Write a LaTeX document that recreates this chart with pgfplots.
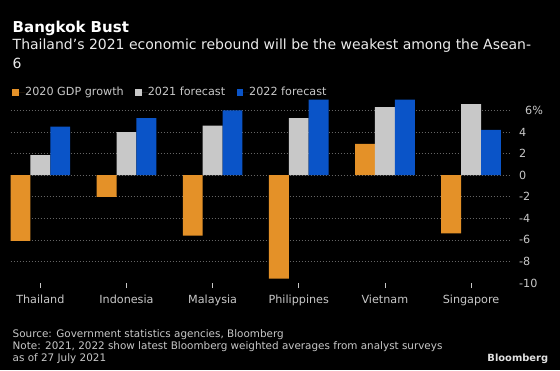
\documentclass[border=0pt]{standalone}
\usepackage{pgfplots}
\pgfplotsset{compat=1.18}
\usepackage{fontspec}
\setmainfont{DejaVu Sans}
\definecolor{bborange}{RGB}{228,145,40}
\definecolor{bbgray}{RGB}{200,200,200}
\definecolor{bbblue}{RGB}{10,84,200}
\definecolor{txtgray}{RGB}{200,200,200}
\definecolor{gridgray}{RGB}{100,100,100}
\begin{document}
\begin{tikzpicture}[x=1pt,y=1pt]
\fill[black] (0,0) rectangle (560,370);
\useasboundingbox (0,0) rectangle (560,370);
\node[anchor=base west, inner sep=0pt, text=white, font=\fontsize{15}{18}\selectfont\bfseries] at (12.5,337.3) {Bangkok Bust};
\node[anchor=base west, inner sep=0pt, text=white!92!black, font=\fontsize{14}{17}\selectfont] at (12.5,320.5) {Thailand’s 2021 economic rebound will be the weakest among the Asean-};
\node[anchor=base west, inner sep=0pt, text=white!92!black, font=\fontsize{14}{17}\selectfont] at (12.5,301.7) {6};
\begin{axis}[
  at={(12.3,80.6)}, anchor=south west, scale only axis,
  width=499.4pt, height=186.6pt,
  xmin=-0.345, xmax=5.452, ymin=-10, ymax=7.3,
  ybar=0pt, bar width=19.9pt,
  axis line style={draw=none},
  ymajorgrids,
  grid style={gridgray, dash pattern=on 1pt off 2pt, line width=0.8pt},
  ytick={-8,-6,-4,-2,0,2,4,6},
  yticklabels={-8,-6,-4,-2,0,2,4,\hspace{6pt}6\%},
  extra y ticks={-10},
  extra y tick labels={-10},
  extra y tick style={grid=none},
  ytick style={draw=none},
  yticklabel pos=right,
  yticklabel style={anchor=west, inner sep=0pt, xshift=9pt, text=txtgray, font=\fontsize{11.2}{13}\selectfont},
  xtick={0,1,2,3,4,5},
  xticklabels={Thailand,Indonesia,Malaysia,Philippines,Vietnam,Singapore},
  xtick pos=bottom,
  xtick align=outside,
  major tick length=5pt,
  xtick style={draw=txtgray, line width=0.6pt},
  xticklabel style={yshift=-3pt, text=txtgray, font=\fontsize{11.2}{13}\selectfont},
  legend style={at={(0.0034,1.023)}, anchor=west, draw=none, fill=none, inner sep=0pt,
    nodes={inner sep=0pt},
    text=txtgray, font=\fontsize{11.2}{13}\selectfont,
    /tikz/every even column/.append style={column sep=11.3pt}},
  legend columns=3,
  legend cell align=left,
  legend image code/.code={\path (0pt,0pt) -- (12.7pt,0pt);\fill[#1] (0pt,-3.35pt) rectangle (6.7pt,3.35pt);},
]
\addplot[fill=bborange, draw=none] coordinates {(0,-6.1) (1,-2.0) (2,-5.6) (3,-9.6) (4,2.9) (5,-5.4)};
\addplot[fill=bbgray, draw=none] coordinates {(0,1.85) (1,4.0) (2,4.6) (3,5.3) (4,6.3) (5,6.6)};
\addplot[fill=bbblue, draw=none] coordinates {(0,4.5) (1,5.3) (2,6.0) (3,7.0) (4,7.0) (5,4.2)};
\legend{2020 GDP growth, 2021 forecast, 2022 forecast}
\end{axis}
\node[anchor=base west, inner sep=0pt, text=txtgray, font=\fontsize{10.4}{12.5}\selectfont] at (12.5,33) {Source: Government statistics agencies, Bloomberg};
\node[anchor=base west, inner sep=0pt, text=txtgray, font=\fontsize{10.4}{12.5}\selectfont] at (12.5,20.5) {Note: 2021, 2022 show latest Bloomberg weighted averages from analyst surveys};
\node[anchor=base west, inner sep=0pt, text=txtgray, font=\fontsize{10.4}{12.5}\selectfont] at (12.5,8.5) {as of 27 July 2021};
\node[anchor=base east, inner sep=0pt, text=white!88!black, font=\fontsize{9.9}{12}\selectfont\bfseries] at (548.3,8.3) {Bloomberg};
\end{tikzpicture}
\end{document}
